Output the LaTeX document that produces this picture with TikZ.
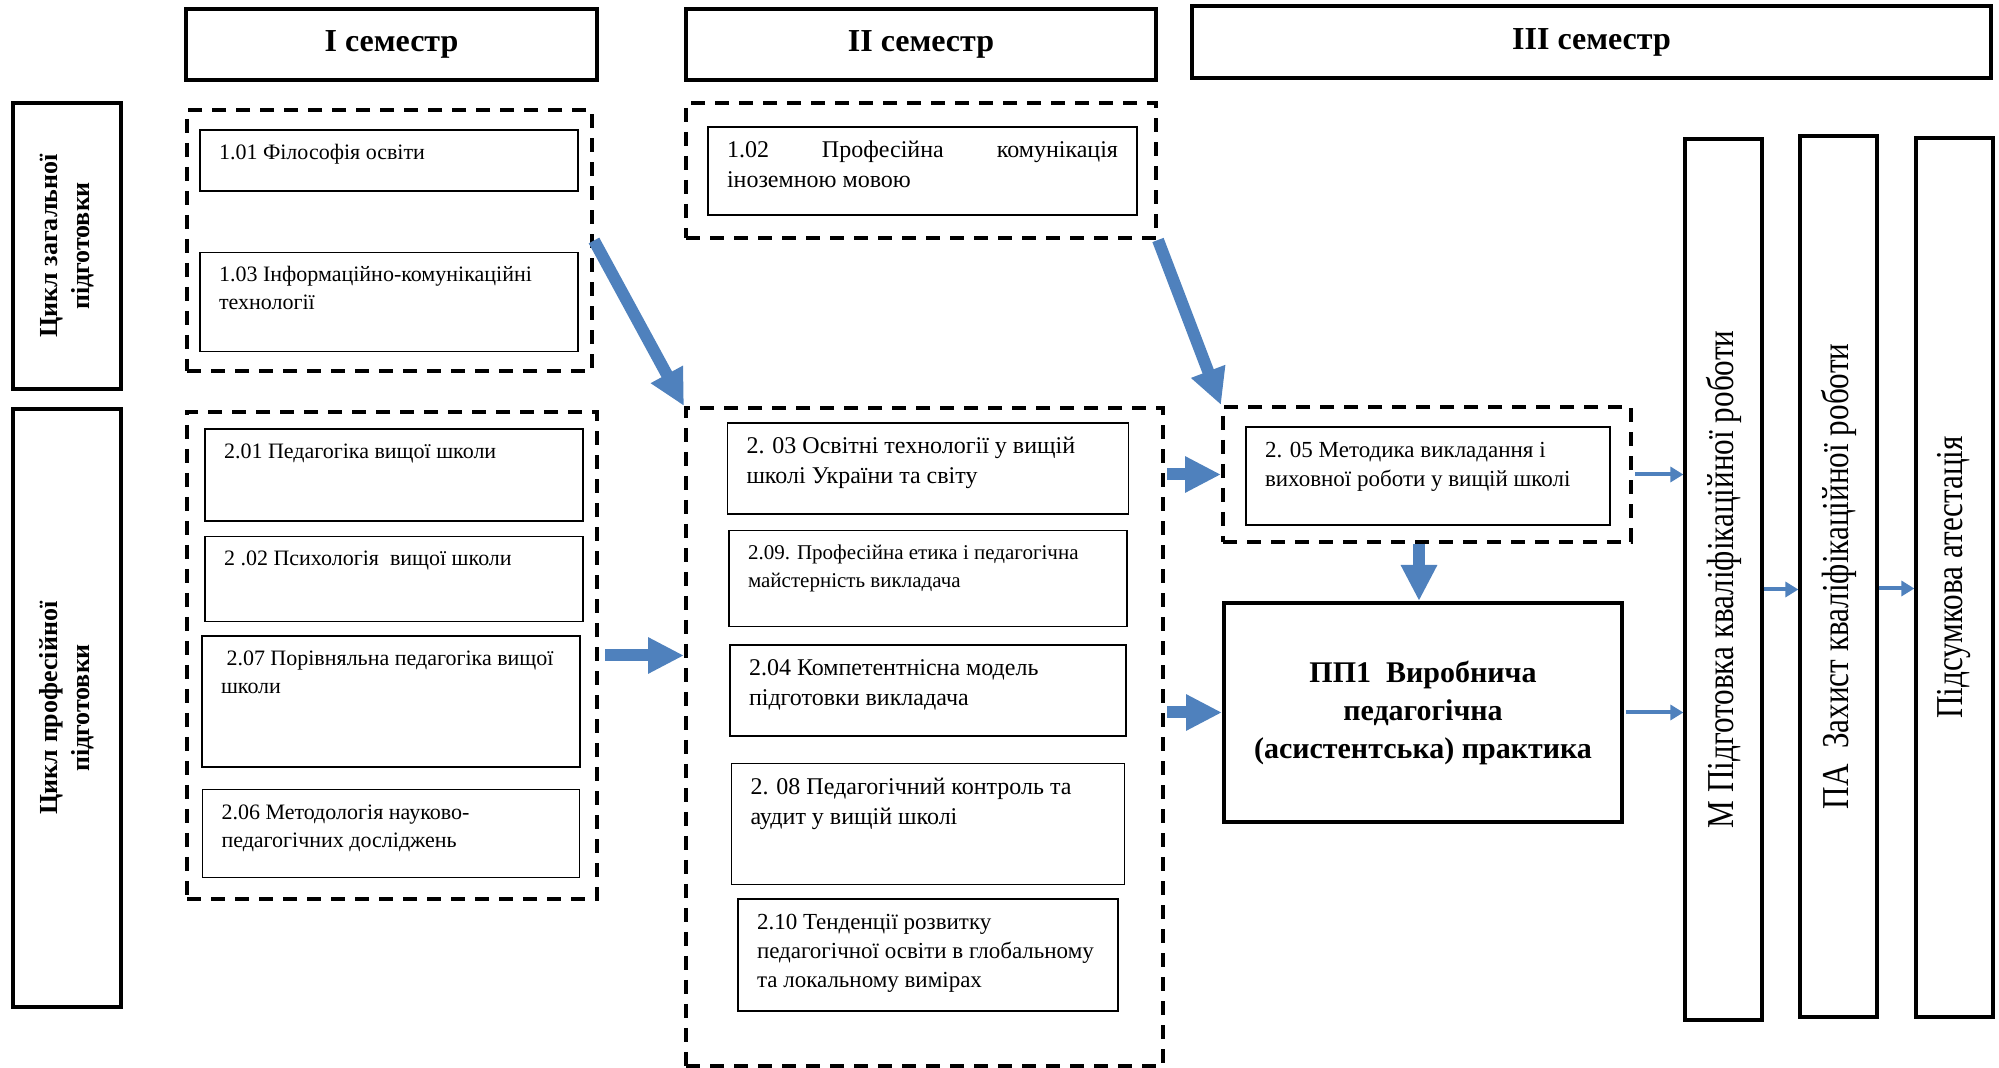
\documentclass[tikz,border=0pt]{standalone}
\usepackage{fontspec}
\setmainfont{Liberation Serif}
\newfontfamily\narrowserif[FakeStretch=0.82]{Liberation Serif}
\usepackage{graphicx}
\usepackage{xcolor}
\usepackage{tikz}
\usetikzlibrary{arrows.meta,positioning,calc}

\definecolor{arrowblue}{RGB}{79,129,189}
\newcommand{\cell}[3]{\parbox[t][#2][t]{#1}{\begin{tabular}[t]{@{}l@{}}#3\end{tabular}}}

\begin{document}
\begin{tikzpicture}[
    x=0.5pt, y=-0.5pt,
    semhead/.style={draw, line width=1.8pt, inner sep=0pt, minimum height=35.5pt,
        font=\fontsize{16}{19}\selectfont\bfseries},
    cycle/.style={draw, line width=1.8pt, inner sep=0pt, minimum width=54pt,
        font=\fontsize{13}{16}\selectfont\bfseries},
    group/.style={draw, line width=2pt, dash pattern=on 7pt off 5pt, inner sep=0pt},
    subj/.style={draw, line width=0.8pt, inner xsep=9.5pt, inner ysep=5pt},
    small/.style={subj, font=\fontsize{11}{14}\selectfont},
    mid/.style={subj, font=\fontsize{12}{15}\selectfont},
    practice/.style={draw, line width=2pt, inner sep=0pt, align=center,
        font=\fontsize{15}{19}\selectfont\bfseries},
    final/.style={draw, line width=1.6pt, inner sep=0pt, minimum width=38.5pt,
        minimum height=440pt, font=\narrowserif\fontsize{19}{22}\selectfont},
    bigflow/.style={-{Triangle[width=17pt,length=18pt]}, line width=6pt, arrowblue},
    thinflow/.style={-{Triangle[width=7.5pt,length=6.5pt]}, line width=2pt, arrowblue},
]
\useasboundingbox (0,0) rectangle (1999,1068);

% Semesters
\node[semhead, minimum width=205.5pt] (sem1) at (391.5,44.5) {І семестр};
\node[semhead, minimum width=235pt] (sem2) at (921,44.5) {ІІ семестр};
\node[semhead, minimum width=399.5pt, minimum height=36pt] (sem3) at (1591.5,42) {ІІІ семестр};

% Cycles
\node[cycle, minimum height=143pt] (gencyc) at (67,246)
    {\rotatebox{90}{\begin{tabular}{@{}c@{}}Цикл загальної\\підготовки\end{tabular}}};
\node[cycle, minimum height=299pt] (profcyc) at (67,708)
    {\rotatebox{90}{\begin{tabular}{@{}c@{}}Цикл професійної\\підготовки\end{tabular}}};

% Groups
\node[group, minimum width=202.5pt, minimum height=130.5pt] (g1gen) at (389.5,240.5) {};
\node[group, minimum width=205pt, minimum height=243.5pt] (g1prof) at (392,655.5) {};
\node[group, minimum width=235pt, minimum height=67.5pt] (g2gen) at (921,170.5) {};
\node[group, minimum width=238.5pt, minimum height=329pt] (g2prof) at (924.5,737) {};
\node[group, minimum width=204pt, minimum height=67.5pt] (g3) at (1427,474.5) {};

% Semester I
\node[small, anchor=north] (s101) at (389,129) {\cell{170pt}{20.5pt}{1.01 Філософія освіти}};
\node[small, below=30pt of s101] (s103) {\cell{170pt}{39.5pt}{1.03 Інформаційно-комунікаційні\\технології}};

\node[small, anchor=north] (s201) at (394,428) {\cell{170pt}{36pt}{2.01 Педагогіка вищої школи}};
\node[small, below=7pt of s201] (s202) {\cell{170pt}{32.5pt}{2 .02 Психологія\ \ вищої школи}};
\node[small, below=6.5pt of s202, xshift=-1.5pt] (s207) {\cell{170pt}{55.5pt}{\ 2.07 Порівняльна педагогіка вищої\\школи}};
\node[small, below=10.5pt of s207] (s206) {\cell{169.5pt}{34pt}{2.06 Методологія науково-\\педагогічних досліджень}};

% Semester II
\node[mid, anchor=north] (s102) at (922.5,126)
    {\cell{195.5pt}{34pt}{\makebox[195.5pt][s]{1.02\hfill Професійна\hfill комунікація}\\іноземною мовою}};

\node[mid, anchor=north] (s203) at (928,422) {\cell{181.5pt}{35.5pt}{2. 03 Освітні технології у вищій\\школі України та світу}};
\node[subj, font=\fontsize{10.5}{14}\selectfont, below=7.5pt of s203] (s209)
    {\cell{180pt}{38pt}{2.09. Професійна етика і педагогічна\\майстерність викладача}};
\node[mid, below=8.5pt of s209] (s204) {\cell{179pt}{35.5pt}{2.04 Компетентнісна модель\\підготовки викладача}};
\node[mid, below=13pt of s204] (s208) {\cell{177.5pt}{50.5pt}{2. 08 Педагогічний контроль та\\аудит у вищій школі}};
\node[subj, font=\fontsize{11.5}{14.5}\selectfont, below=6.5pt of s208] (s210)
    {\cell{171pt}{46pt}{2.10 Тенденції розвитку\\педагогічної освіти в глобальному\\та локальному вимірах}};

% Semester III
\node[subj, font=\fontsize{11.5}{14.5}\selectfont, anchor=north] (s205) at (1428,426)
    {\cell{163pt}{39pt}{2. 05 Методика викладання і\\виховної роботи у вищій школі}};
\node[practice, minimum width=199pt, minimum height=109.5pt] (pp) at (1423,712.5)
    {ПП1\ \ Виробнича\\педагогічна\\(асистентська) практика};

\node[final, minimum height=440.5pt] (m) at (1723.5,579.5) {\rotatebox{90}{М Підготовка кваліфікаційної роботи}};
\node[final, minimum height=440.5pt] (pa) at (1838.5,576.5) {\rotatebox{90}{ПА\ \ Захист кваліфікаційної роботи}};
\node[final, minimum height=439.5pt] (fin) at (1954.5,577.5) {\rotatebox{90}{Підсумкова атестація}};

% Arrows
\draw[bigflow] (g1gen.east) -- (g2prof.north west);
\draw[bigflow] (g2gen.south east) -- (g3.north west);
\draw[bigflow, shorten <=3pt] (g1prof.east) -- (g1prof.east -| g2prof.west);
\draw[bigflow, shorten <=1pt] (g3.west -| g2prof.east) -- (g3.west);
\draw[bigflow, shorten <=1pt] (pp.west -| g2prof.east) -- (pp.west);
\draw[bigflow] ([xshift=-2pt]g3.south -| pp.north) -- ([xshift=-2pt]pp.north);

\draw[thinflow, shorten <=1pt] (g3.east) -- (g3.east -| m.west);
\draw[thinflow, shorten <=1pt] (pp.east) -- (pp.east -| m.west);
\draw[thinflow] ([yshift=-5pt]m.east) -- ([yshift=-5pt]m.east -| pa.west);
\draw[thinflow] ([yshift=-6pt]pa.east) -- ([yshift=-6pt]pa.east -| fin.west);
\end{tikzpicture}
\end{document}
